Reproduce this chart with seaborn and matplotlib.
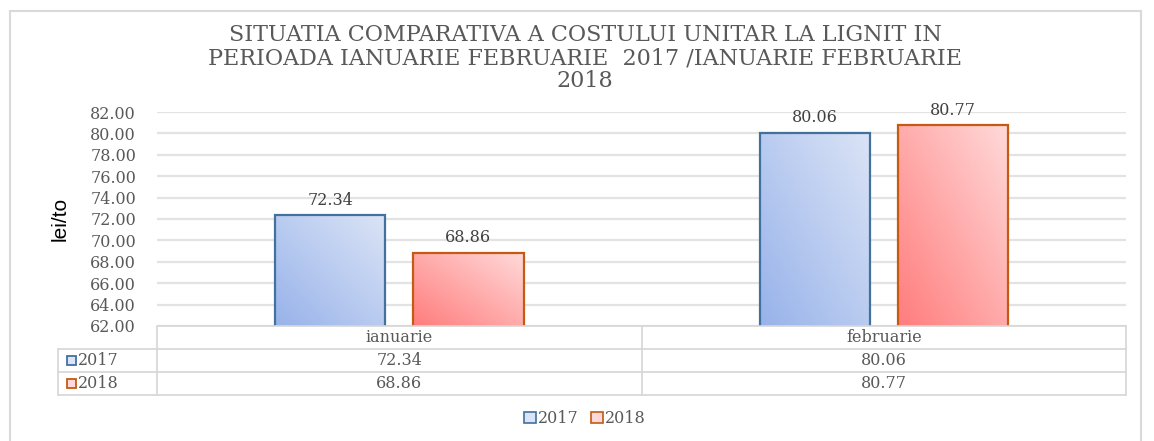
import numpy as np
import pandas as pd
import matplotlib
matplotlib.use("Agg")
import matplotlib.pyplot as plt
import matplotlib.colors as mcolors
from matplotlib.patches import Rectangle, Patch
import matplotlib.transforms as mtransforms
import seaborn as sns

# data
months = ["ianuarie", "februarie"]
years = ["2017", "2018"]
cost_2017 = [72.34, 80.06]
cost_2018 = [68.86, 80.77]

title = ("SITUATIA COMPARATIVA A COSTULUI UNITAR LA LIGNIT IN\n"
         "PERIOADA IANUARIE FEBRUARIE  2017 /IANUARIE FEBRUARIE\n2018")

df = pd.DataFrame({
    "luna": months * 2,
    "an": [years[0]] * 2 + [years[1]] * 2,
    "cost": cost_2017 + cost_2018,
})

sns.set_style("white")
plt.rcParams["font.family"] = ["DejaVu Serif"]

edge = {"2017": "#41719c", "2018": "#c55a11"}
grad = {"2017": ("#98b3ea", "#dbe4f6"), "2018": ("#ff7d7d", "#ffd9d9")}
txt = "#595959"
fs = 11.5

fig = plt.figure(figsize=(11.54, 4.41), dpi=100)
ax = fig.add_axes([0.136, 0.261, 0.840, 0.485])

sns.barplot(data=df, x="luna", y="cost", hue="an", order=months,
            hue_order=years, width=0.57, gap=0.2, ax=ax,
            palette={y: grad[y][1] for y in years}, legend=False)

ticks = np.arange(62, 82.1, 2)
ax.set_ylim(62, 82)
ax.set_yticks(ticks)
ax.set_yticklabels([f"{v:.2f}" for v in ticks], fontsize=fs, color=txt)
ax.tick_params(axis="y", length=0, pad=15)
ax.set_xticks([])
ax.set_xlabel("")
ax.set_ylabel("lei/to", fontsize=15, color="black",
              family=["Liberation Sans Narrow", "Liberation Sans"])
ax.yaxis.set_label_coords(-0.09, 0.5)
for s in ax.spines.values():
    s.set_visible(False)
ax.grid(axis="y", color="#e3e3e3", linewidth=1.6)
ax.set_axisbelow(True)

# gradient fill + edges on bars
for cont, yr in zip(ax.containers, years):
    c0, c1 = grad[yr]
    cmap = mcolors.LinearSegmentedColormap.from_list(yr, [c0, c1])
    g = np.add.outer(np.linspace(1, 0, 50), np.linspace(0, 1, 50)) / 2
    for bar, val in zip(cont, cont.datavalues):
        bar.set_edgecolor(edge[yr])
        bar.set_linewidth(1.6)
        x0, w = bar.get_x(), bar.get_width()
        im = ax.imshow(g, cmap=cmap, extent=[x0, x0 + w, 62, val],
                       aspect="auto", origin="upper", zorder=bar.get_zorder())
        im.set_clip_path(bar)
        bar.set_facecolor("none")
        bar.set_zorder(bar.get_zorder() + 0.1)
        ax.text(x0 + w / 2, val + 0.6, f"{val:.2f}", ha="center", va="bottom",
                fontsize=fs, color="#404040", clip_on=False)
ax.set_xlim(-0.5, 1.5)
ax.set_ylim(62, 82)

# data table under the axis
tr = mtransforms.blended_transform_factory(ax.transData, ax.transAxes)
xl = ax.transAxes
rh = 0.108
lx = -0.102
line_kw = dict(color="#d6d6d6", linewidth=1.2, clip_on=False)
ax.plot([0, 1], [0, 0], transform=xl, **line_kw)
for k in (1, 2, 3):
    ax.plot([lx, 1], [-k * rh, -k * rh], transform=xl, **line_kw)
ax.plot([lx, lx], [-rh, -3 * rh], transform=xl, **line_kw)
for xd in [-0.5, 0.5, 1.5]:
    ax.plot([xd, xd], [0, -3 * rh], transform=tr, **line_kw)

for i, m in enumerate(months):
    ax.text(i, -0.5 * rh, m, transform=tr, ha="center", va="center",
            fontsize=fs, color=txt)
rows = [cost_2017, cost_2018]
for r, (yr, vals) in enumerate(zip(years, rows)):
    yc = -(1.5 + r) * rh
    for i, v in enumerate(vals):
        ax.text(i, yc, f"{v:.2f}", transform=tr, ha="center", va="center",
                fontsize=fs, color=txt)
    ax.add_patch(Rectangle((-0.093, yc - 0.022), 0.0095, 0.044,
                           transform=xl, facecolor=grad[yr][1],
                           edgecolor=edge[yr], linewidth=1.3, clip_on=False))
    ax.text(-0.082, yc, yr, transform=xl, ha="left", va="center",
            fontsize=fs, color=txt)

handles = [Patch(facecolor=grad[y][1], edgecolor=edge[y], linewidth=1.2,
                 label=y) for y in years]
fig.legend(handles=handles, loc="center", bbox_to_anchor=(0.507, 0.05),
           ncol=2, frameon=False, fontsize=fs, handlelength=0.7,
           handleheight=0.7, handletextpad=0.15, columnspacing=0.8,
           labelcolor=txt)

fig.text(0.507, 0.868, title, ha="center", va="center", fontsize=16,
         color=txt, linespacing=1.05)

fig.add_artist(Rectangle((0.009, -0.01), 0.98, 0.985, transform=fig.transFigure,
                         facecolor="none", edgecolor="#d9d9d9", linewidth=1.5))

fig.savefig("out.png", dpi=100)
